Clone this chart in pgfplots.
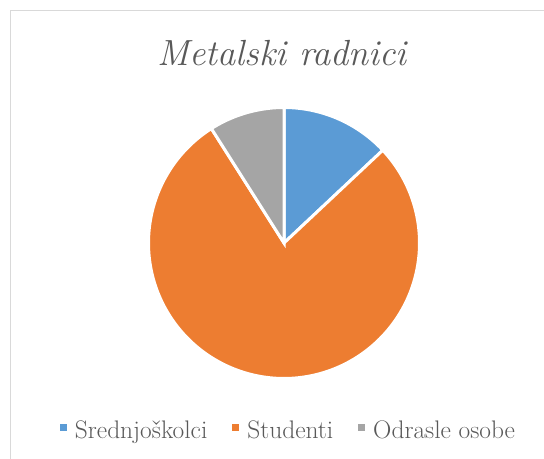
\documentclass[border=0pt]{standalone}
\usepackage{fontspec}
\usepackage{pgfplots}
\pgfplotsset{compat=1.18}
\definecolor{cBlue}{HTML}{5B9BD5}
\definecolor{cOrange}{HTML}{ED7D31}
\definecolor{cGray}{HTML}{A5A5A5}
\definecolor{txtGray}{HTML}{595959}
\definecolor{frameGray}{HTML}{D9D9D9}
% values (percent)
\def\vA{13}
\def\vB{78}
\def\vC{9}
\pgfmathsetmacro{\total}{\vA+\vB+\vC}
\pgfmathsetmacro{\aA}{90}
\pgfmathsetmacro{\aB}{\aA-360/\total*\vA}
\pgfmathsetmacro{\aC}{\aB-360/\total*\vB}
\pgfmathsetmacro{\aD}{\aC-360/\total*\vC}
\def\cx{284}
\def\cy{216}
\def\rr{135.5}
\begin{document}
\begin{tikzpicture}
\useasboundingbox (0,0) rectangle (544bp,459bp);
\draw[color=frameGray, line width=1bp] (10.5bp,-20bp) rectangle (600bp,448.5bp);
\node[anchor=base, text=txtGray, font=\fontsize{36.5}{42}\selectfont\itshape] at (282bp,393bp) {Metalski radnici};
\begin{axis}[
  at={(0,0)}, anchor=south west,
  scale only axis, width=544bp, height=459bp,
  xmin=0, xmax=544, ymin=0, ymax=459,
  hide axis, clip=false,
  legend columns=3,
  legend image code/.code={\fill[#1,draw=none] (0bp,-1bp) rectangle (7bp,6bp);},
  legend style={at={(288.5/544,29/459)}, anchor=center, draw=none, fill=none,
    font=\fontsize{25.5}{30}\selectfont, text=txtGray,
    /tikz/every odd column/.append style={column sep=6bp},
    /tikz/every even column/.append style={column sep=23bp}},
]
\addplot[fill=cBlue, draw=white, line width=3bp, domain=\aB:\aA, samples=60]
  ({\cx+\rr*cos(x)},{\cy+\rr*sin(x)}) -- (axis cs:\cx,\cy) -- cycle;
\addlegendentry{Srednjoškolci}
\addplot[fill=cOrange, draw=white, line width=3bp, domain=\aC:\aB, samples=240]
  ({\cx+\rr*cos(x)},{\cy+\rr*sin(x)}) -- (axis cs:\cx,\cy) -- cycle;
\addlegendentry{Studenti}
\addplot[fill=cGray, draw=white, line width=3bp, domain=\aD:\aC, samples=40]
  ({\cx+\rr*cos(x)},{\cy+\rr*sin(x)}) -- (axis cs:\cx,\cy) -- cycle;
\addlegendentry{Odrasle osobe}
\end{axis}
\end{tikzpicture}
\end{document}
